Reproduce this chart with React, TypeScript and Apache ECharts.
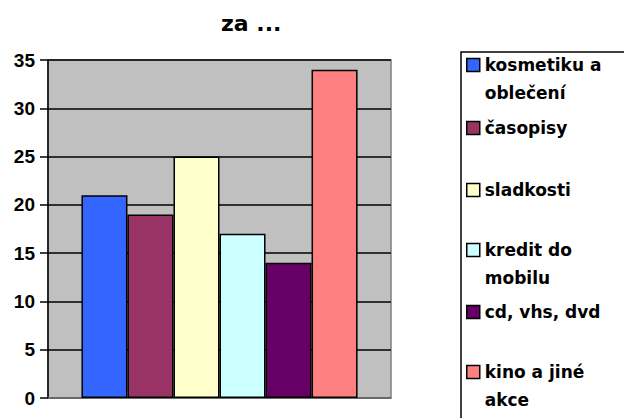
import React, { useEffect, useRef } from "react";
import * as echarts from "echarts";

const categories = [""];
const seriesNames = [
  "kosmetiku a oblečení",
  "časopisy",
  "sladkosti",
  "kredit do mobilu",
  "cd, vhs, dvd",
  "kino a jiné akce",
];
const legendLabels = [
  "kosmetiku a\noblečení",
  "časopisy",
  "sladkosti",
  "kredit do\nmobilu",
  "cd, vhs, dvd",
  "kino a jiné\nakce",
];
const seriesValues = [21, 19, 25, 17, 14, 34];
const seriesColors = ["#3366FF", "#993366", "#FFFFCC", "#CCFFFF", "#660066", "#FF8080"];
const yTicks = { min: 0, max: 35, interval: 5 };
const titleText = "za ...";

// legend layout: centre of each item's first line
const legendLineCentres = [65, 128, 190, 250, 312, 372];

export default function App() {
  const ref = useRef<HTMLDivElement>(null);
  useEffect(() => {
    document.body.style.margin = "0";
    if (!ref.current) return;
    const chart = echarts.init(ref.current, undefined, { renderer: "svg" });
    const legends = seriesNames.map((name, i) => {
      const twoLine = legendLabels[i].includes("\n");
      return {
        show: true,
        data: [name],
        orient: "vertical",
        left: 466,
        top: legendLineCentres[i] - (twoLine ? 42 : 14),
        padding: 0,
        icon: "rect",
        itemWidth: 13,
        itemHeight: 13,
        itemGap: 0,
        selectedMode: false,
        itemStyle: { borderColor: "#000", borderWidth: 1.5 },
        formatter: () => (twoLine ? "\n" + legendLabels[i] : legendLabels[i]),
        textStyle: {
          fontFamily: "DejaVu Sans",
          fontWeight: "bold",
          fontSize: 17,
          color: "#000",
          lineHeight: 28,
        },
      };
    });
    chart.setOption({
      animation: false,
      backgroundColor: "#fff",
      title: {
        text: titleText,
        left: 216,
        top: 7,
        textStyle: {
          fontFamily: "DejaVu Sans",
          fontWeight: "bold",
          fontSize: 22,
          color: "#000",
        },
      },
      graphic: [
        {
          type: "rect",
          shape: { x: 461, y: 52, width: 200, height: 400 },
          style: { fill: "transparent", stroke: "#000", lineWidth: 1.5 },
          silent: true,
        },
      ],
      legend: legends,
      grid: {
        left: 48,
        right: 233,
        top: 60,
        bottom: 20,
        show: true,
        backgroundColor: "#C0C0C0",
        borderColor: "#808080",
        borderWidth: 1.5,
        containLabel: false,
      },
      xAxis: {
        type: "category",
        data: categories,
        axisTick: { show: false },
        axisLabel: { show: false },
        axisLine: { lineStyle: { color: "#808080", width: 1.5 } },
      },
      yAxis: {
        type: "value",
        min: yTicks.min,
        max: yTicks.max,
        interval: yTicks.interval,
        axisLine: { show: true, lineStyle: { color: "#000", width: 1.5 } },
        axisTick: { show: true, length: 8, lineStyle: { color: "#000", width: 1.5 } },
        splitLine: { show: true, lineStyle: { color: "#000", width: 1.5 } },
        axisLabel: {
          margin: 13,
          fontFamily: "Liberation Sans",
          fontWeight: "bold",
          fontSize: 19,
          color: "#000",
        },
      },
      series: seriesNames.map((name, i) => ({
        name,
        type: "bar",
        data: [seriesValues[i]],
        barGap: "0%",
        barCategoryGap: "19.5%",
        itemStyle: { color: seriesColors[i], borderColor: "#000", borderWidth: 1.5 },
      })),
    });
    return () => chart.dispose();
  }, []);
  return <div ref={ref} style={{ width: 624, height: 418 }} />;
}
